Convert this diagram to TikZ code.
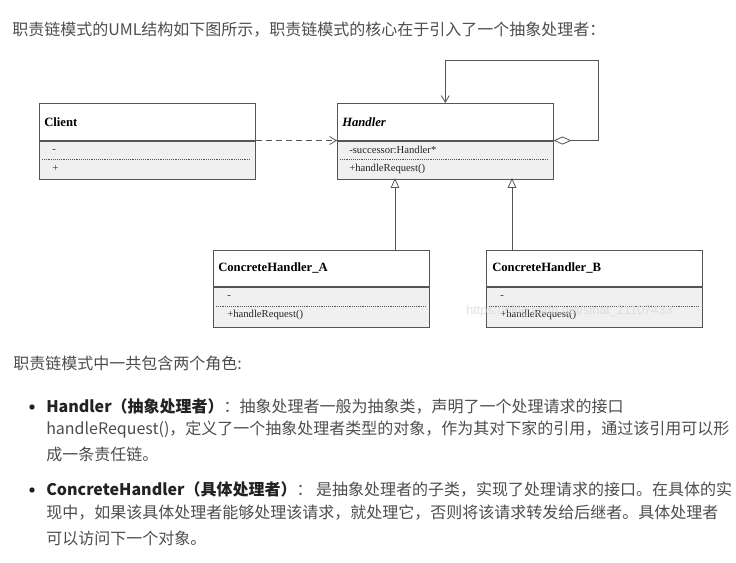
\documentclass[tikz,border=0pt]{standalone}
\usepackage{fontspec}
\setmainfont{Liberation Serif}
\newfontfamily\cjk{Noto Sans CJK SC}
\newfontfamily\wmfont{Liberation Sans}
\usetikzlibrary{arrows.meta}

\definecolor{txt}{HTML}{4D4D4D}
\definecolor{txtb}{HTML}{222222}
\definecolor{umlline}{HTML}{555555}
\definecolor{umlfill}{HTML}{F0F0F0}
\definecolor{wmark}{HTML}{D8D8D8}

\tikzset{
  para/.style={anchor=west, inner sep=0, text=txt, font=\cjk\fontsize{12}{14}\selectfont},
  bullet/.style={circle, fill=txtb, inner sep=0, minimum size=4pt},
  clshead/.style={draw=umlline, fill=white, anchor=north west, inner sep=0,
    minimum width=162pt, minimum height=#1},
  clsbody/.style={draw=umlline, fill=umlfill, anchor=north west, inner sep=0,
    minimum width=162pt, minimum height=#1},
  clsname/.style={anchor=west, inner sep=0, text=black, font=\fontsize{9.5}{11}\selectfont\bfseries},
  member/.style={anchor=west, inner sep=0, text=black!85, font=\fontsize{8}{9}\selectfont},
  memsep/.style={umlline, densely dotted, line width=0.4pt},
  link/.style={umlline, line width=0.6pt},
}

\begin{document}
\begin{tikzpicture}[x=0.75pt, y=-0.75pt]
  \useasboundingbox (0,0) rectangle (736,563);

  % intro
  \node[para] (intro) at (12,30) {职责链模式的UML结构如下图所示，职责链模式的核心在于引入了一个抽象处理者：};

  % classes
  \node[clshead=27.75pt] (client) at (39,103) {};
  \node[clsbody=28.5pt] (clientm) at (client.south west) {};
  \node[clsname] (clientn) at (44,122) {Client};
  \node[member] (clienta) at (52,151) {-};
  \draw[memsep] (42,159) -- (251,159);
  \node[member] (clientf) at (52,168) {+};

  \node[clshead=27.75pt] (handler) at (337,103) {};
  \node[clsbody=28.5pt] (handlerm) at (handler.south west) {};
  \node[clsname] (handlern) at (342,122) {\itshape Handler};
  \node[member] (handlera) at (349,150) {-successor:Handler*};
  \draw[memsep] (340,159) -- (549,159);
  \node[member] (handlerf) at (349,169) {+handleRequest()};

  \node[clshead=27pt] (cha) at (213,250) {};
  \node[clsbody=30pt] (cham) at (cha.south west) {};
  \node[clsname] (chan) at (218,268) {ConcreteHandler\_A};
  \node[member] (chaa) at (227,297) {-};
  \draw[memsep] (216,306) -- (426,306);
  \node[member] (chaf) at (227,315) {+handleRequest()};

  \node[clshead=27pt] (chb) at (486,250) {};
  \node[clsbody=30pt] (chbm) at (chb.south west) {};
  \node[clsname] (chbn) at (492,268) {ConcreteHandler\_B};
  \node[member] (chba) at (500,297) {-};
  \draw[memsep] (489,306) -- (699,306);
  \node[member] (chbf) at (500,315) {+handleRequest()};

  \node[anchor=west, inner sep=0, text=wmark, opacity=0.8, font=\wmfont\fontsize{9.5}{11}\selectfont] (wm) at (466,311) {https://blog.csdn.net/sinat\_21107433};

  % connectors
  \coordinate (loop) at (598,60);
  \coordinate (ina) at (395,178);
  \coordinate (inb) at (512,178);
  \draw[link, dash pattern=on 4.5pt off 3pt, -{Straight Barb[length=5pt,width=6pt]}]
    (client.south east) -- (handler.south west);
  \draw[link, {Diamond[open,length=13.5pt,width=6pt]}-{Straight Barb[length=5pt,width=6pt]}]
    (handler.south east) -| (loop) -| (handler.north);
  \draw[link, -{Triangle[open,length=7.5pt,width=6.5pt]}] (cha.north -| ina) -- (ina);
  \draw[link, -{Triangle[open,length=7.5pt,width=6.5pt]}] (chb.north -| inb) -- (inb);

  % roles
  \node[para] (roles) at (13,363) {职责链模式中一共包含两个角色:};
  \node[bullet] (dota) at (32,407) {};
  \node[para] (rolea1) at (46,406) {\textcolor{txtb}{\bfseries Handler（抽象处理者）}：抽象处理者一般为抽象类，声明了一个处理请求的接口};
  \node[para] (rolea2) at (46,430) {handleRequest()，定义了一个抽象处理者类型的对象，作为其对下家的引用，通过该引用可以形};
  \node[para] (rolea3) at (46,454) {成一条责任链。};
  \node[bullet] (dotb) at (32,490) {};
  \node[para] (roleb1) at (46,489) {\textcolor{txtb}{\bfseries ConcreteHandler（具体处理者）}：\ 是抽象处理者的子类，实现了处理请求的接口。在具体的实};
  \node[para] (roleb2) at (46,513) {现中，如果该具体处理者能够处理该请求，就处理它，否则将该请求转发给后继者。具体处理者};
  \node[para] (roleb3) at (46,538) {可以访问下一个对象。};
\end{tikzpicture}
\end{document}
